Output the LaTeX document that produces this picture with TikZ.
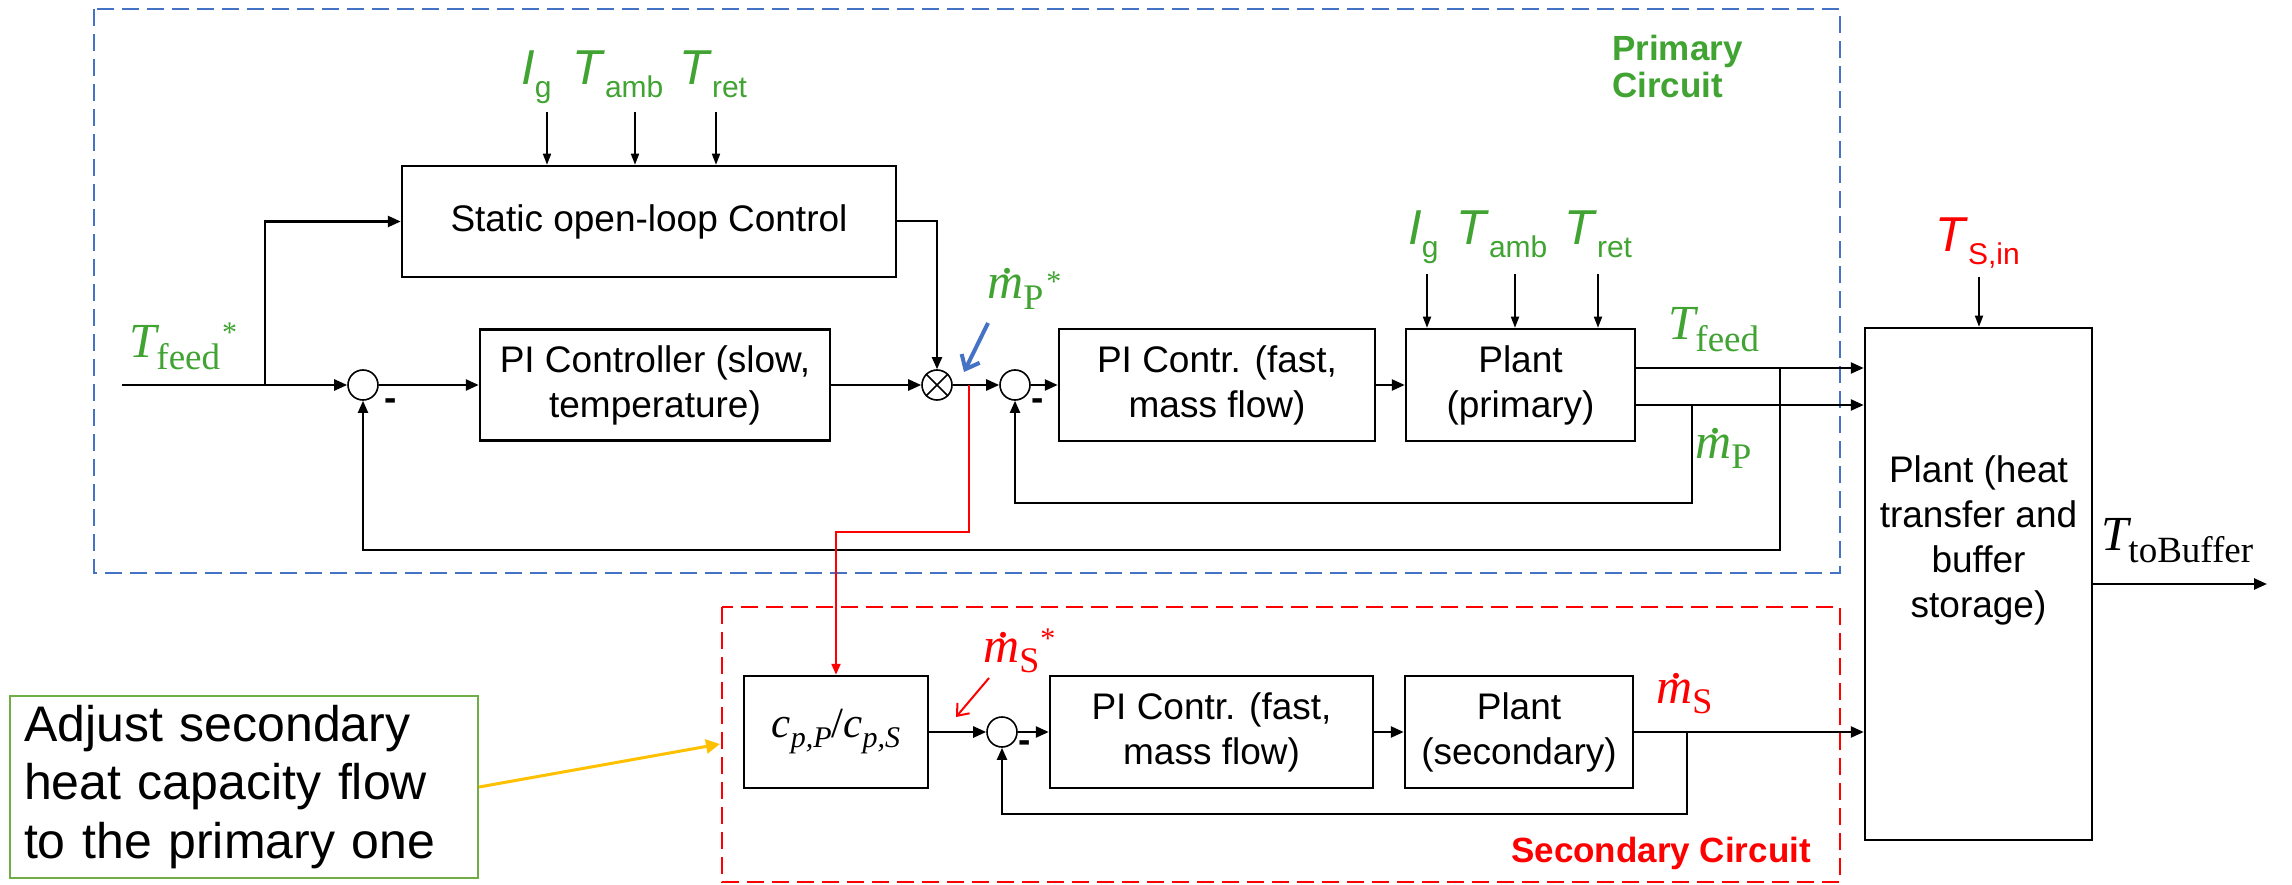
\documentclass[tikz,border=0pt]{standalone}
\usepackage{fontspec}
\setmainfont{Liberation Sans}
\newfontfamily\symserif{Liberation Serif}
\usetikzlibrary{arrows.meta}

\definecolor{sigGreen}{RGB}{64,163,50}
\definecolor{loopBlue}{RGB}{68,114,196}
\definecolor{secRed}{RGB}{255,0,0}
\definecolor{noteYellow}{RGB}{255,192,0}
\definecolor{noteGreen}{RGB}{112,173,71}

% italic sans symbol with an upright sans subscript
\newcommand{\sansvar}[2]{\textit{#1}\raisebox{-13pt}{\fontsize{30}{30}\selectfont #2}}
% serif temperature symbol with an upright subscript
\newcommand{\symT}[1]{{\itshape T}\raisebox{-12pt}{\fontsize{37}{37}\selectfont #1}}
% mass flow rate: m with a dot above, upright subscript
\newcommand{\mdot}{\makebox[0pt][l]{\hspace{0.3em}\raisebox{0.5em}{\itshape .}}{\itshape m}}
\newcommand{\symm}[1]{\mdot\raisebox{-10pt}{\fontsize{36}{36}\selectfont #1}}
\newcommand{\refstar}[1]{\raisebox{#1}{\fontsize{30}{30}\selectfont *}}
% italic subscript for the heat capacities
\newcommand{\cpsub}[1]{{\itshape c}\raisebox{-10pt}{\fontsize{30}{30}\selectfont\itshape p,#1}}

\begin{document}
\begin{tikzpicture}[x=1pt, y=-1pt,
  block/.style={draw, line width=2.5pt, rectangle, inner sep=0pt,
    font=\fontsize{37}{45}\selectfont, align=center},
  junction/.style={draw, circle, line width=1.6pt, minimum size=30pt, inner sep=0pt},
  sig/.style={line width=2.5pt, -{Triangle[length=13pt,width=11pt]}},
  fback/.style={line width=2pt, -{Triangle[length=12pt,width=10pt]}},
  feedin/.style={line width=1.6pt, -{Triangle[length=11pt,width=8pt]}},
  sanslbl/.style={inner sep=0pt, anchor=base west, font=\fontsize{49}{55}\selectfont},
  tlbl/.style={inner sep=0pt, anchor=base west, font=\symserif\fontsize{49}{52}\selectfont},
  mlbl/.style={inner sep=0pt, anchor=base west, font=\symserif\fontsize{50}{52}\selectfont},
  minus/.style={inner sep=0pt, font=\bfseries\fontsize{37}{37}\selectfont},
  circuit/.style={draw, dash pattern=on 17pt off 8pt, line width=2.5pt},
  framelbl/.style={inner sep=0pt, font=\bfseries\fontsize{35}{37}\selectfont},
]
\useasboundingbox (0,0) rectangle (2292,885);

% circuit frames
\draw[circuit, loopBlue] (94,9) rectangle (1840,573);
\draw[circuit, secRed] (722,607) rectangle (1840,882);
\node[framelbl, anchor=north west, align=left, text=sigGreen] (primlbl) at (1612,35) {Primary\\Circuit};
\node[framelbl, anchor=base east, text=secRed] (seclbl) at (1811,862) {Secondary Circuit};

% primary circuit blocks
\node[block, minimum width=494pt, minimum height=111pt] (static) at (649,221.5) {Static open-loop Control};
\node[block, minimum width=350pt, minimum height=111pt] (pislow) at (655,385) {PI Controller (slow,\\temperature)};
\node[block, minimum width=316pt, minimum height=112pt] (pifast) at (1217,385) {PI Contr. (fast,\\mass flow)};
\node[block, minimum width=229pt, minimum height=112pt] (plantP) at (1520.5,385) {Plant\\(primary)};

% heat transfer / buffer plant
\node[block, minimum width=227pt, minimum height=512pt] (heat) at (1978.5,584) {};
\node[inner sep=0pt, anchor=north, align=center, font=\fontsize{37}{45}\selectfont] (heattxt) at (1978.5,455) {Plant (heat\\transfer and\\buffer\\storage)};

% secondary circuit blocks
\node[block, minimum width=184pt, minimum height=112pt, font=\symserif\fontsize{43}{48}\selectfont] (cp) at (836,732) {\cpsub{P}/\cpsub{S}};
\node[block, minimum width=323pt, minimum height=112pt] (pifast2) at (1211.5,732) {PI Contr. (fast,\\mass flow)};
\node[block, minimum width=228pt, minimum height=112pt] (plantS) at (1519,732) {Plant\\(secondary)};

% summing and multiplying junctions
\node[junction] (sum1) at (363,385) {};
\node[junction] (mult) at (937,385) {};
\draw[line width=1.6pt] (mult.45) -- (mult.225) (mult.135) -- (mult.315);
\node[junction] (sum2) at (1015,385) {};
\node[junction] (sum3) at (1002,732) {};
\node[minus] (m1) at (391,405) {-};
\node[minus] (m2) at (1038,405) {-};
\node[minus] (m3) at (1025,747) {-};

% annotation box
\node[draw=noteGreen, line width=2pt, minimum width=468pt, minimum height=182pt, inner sep=0pt,
  text width=440pt, align=left, font=\fontsize{50}{58.5}\selectfont] (note) at (244,787)
  {Adjust secondary\\heat capacity flow\\to the primary one};

% signal labels
\node[tlbl, text=sigGreen] (tfeedref) at (129,357) {\symT{feed}\kern2pt\refstar{15pt}};
\node[sanslbl, text=sigGreen] (ig1) at (521,85) {\sansvar{I}{g}};
\node[sanslbl, text=sigGreen] (tamb1) at (572,85) {\sansvar{T}{amb}};
\node[sanslbl, text=sigGreen] (tret1) at (679,85) {\sansvar{T}{ret}};
\node[sanslbl, text=sigGreen] (ig2) at (1408,245) {\sansvar{I}{g}};
\node[sanslbl, text=sigGreen] (tamb2) at (1456,245) {\sansvar{T}{amb}};
\node[sanslbl, text=sigGreen] (tret2) at (1564,245) {\sansvar{T}{ret}};
\node[sanslbl, text=secRed] (tsin) at (1935,252) {\sansvar{T}{S,in}};
\node[mlbl, text=sigGreen] (mpref) at (987,299) {\symm{P}\kern3pt\refstar{7pt}};
\node[tlbl, text=sigGreen] (tfeed) at (1668,340) {\symT{feed}};
\node[mlbl, text=sigGreen] (mp) at (1695,458) {\symm{P}};
\node[mlbl, text=secRed] (msref) at (983,662) {\symm{S}\kern1pt\refstar{14pt}};
\node[mlbl, text=secRed] (ms) at (1656,703) {\symm{S}};
\node[tlbl] (tbuf) at (2101,550) {\symT{toBuffer}};

% coordinates of free ends and branch points
\coordinate (tin) at (122,385);
\coordinate (split) at (265,385);
\coordinate (pT) at (1635,368);
\coordinate (pM) at (1635,405);
\coordinate (fbT) at (1780,368);
\coordinate (fbM) at (1692,405);
\coordinate (fbS) at (1687,732);
\coordinate (rsplit) at (969,385);
\coordinate (tout) at (2267,584);
\coordinate (a1) at (547,112);
\coordinate (a2) at (635,112);
\coordinate (a3) at (716,112);
\coordinate (b1) at (1427,274);
\coordinate (b2) at (1515,274);
\coordinate (b3) at (1598,274);
\coordinate (c1) at (1979,277);
\coordinate (bArrS) at (988,323);
\coordinate (bArrE) at (964,372);
\coordinate (rArrS) at (989,678);
\coordinate (rArrE) at (956,717);
\coordinate (ynote) at (720,744);

% disturbance inputs
\foreach \p in {a1,a2,a3} \draw[feedin] (\p) -- (\p |- static.north);
\foreach \p in {b1,b2,b3} \draw[feedin] (\p) -- (\p |- plantP.north);
\draw[feedin] (c1) -- (c1 |- heat.north);

% primary loop
\draw[sig] (tin) -- (sum1.west);
\draw[sig] (split) |- (static.west);
\draw[sig] (sum1.east) -- (pislow.west);
\draw[sig] (pislow.east) -- (mult.west);
\draw[line width=2pt, -{Triangle[length=12pt,width=10pt]}] (static.east) -| (mult.north);
\draw[sig] (mult.east) -- (sum2.west);
\draw[sig] (sum2.east) -- (pifast.west);
\draw[sig] (pifast.east) -- (plantP.west);
\draw[sig] (pT) -- (pT -| heat.west);
\draw[sig] (pM) -- (pM -| heat.west);
\draw[fback] (fbT) -- ++(0,182) -| (sum1.south);
\draw[fback] (fbM) -- ++(0,98) -| (sum2.south);

% coupling to the secondary loop
\draw[secRed, line width=2.2pt, -{Triangle[length=11pt,width=9pt]}] (rsplit) -- ++(0,147) -| (cp.north);

% secondary loop
\draw[sig] (cp.east) -- (sum3.west);
\draw[sig] (sum3.east) -- (pifast2.west);
\draw[sig] (pifast2.east) -- (plantS.west);
\draw[sig] (plantS.east) -- (plantS.east -| heat.west);
\draw[fback] (fbS) -- ++(0,82) -| (sum3.south);

% output
\draw[sig] (heat.east |- tout) -- (tout);

% pointer arrows
\draw[loopBlue, line width=4pt, -{Straight Barb[length=12pt,width=20pt]}] (bArrS) -- (bArrE);
\draw[secRed, line width=2pt, -{Straight Barb[length=10pt,width=16pt]}] (rArrS) -- (rArrE);
\draw[noteYellow, line width=3pt, -{Triangle[length=14pt,width=14pt]}] (note.east) -- (ynote);
\end{tikzpicture}
\end{document}
